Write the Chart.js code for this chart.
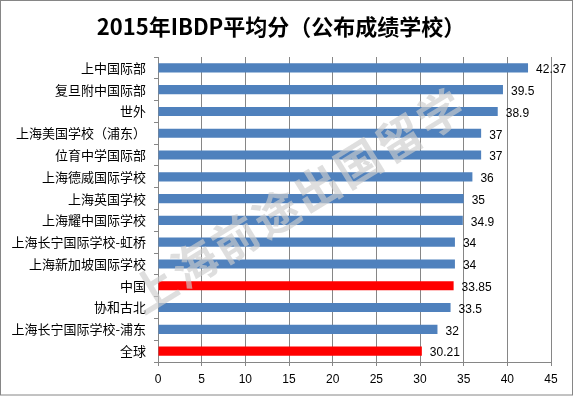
<!DOCTYPE html>
<html><head><meta charset="utf-8">
<script src="https://cdn.jsdelivr.net/npm/chart.js@4"></script>
<style>
html,body{margin:0;padding:0;background:#fff;}
#wrap{position:relative;width:574px;height:396px;}
canvas{display:block;}
</style></head>
<body>
<div id="wrap"><canvas id="c" width="574" height="396"></canvas></div>
<script>
const titleText = '2015年IBDP平均分（公布成绩学校）';
const watermarkText = '上海前途出国留学';
const categories = ['上中国际部','复旦附中国际部','世外','上海美国学校（浦东）','位育中学国际部','上海德威国际学校','上海英国学校','上海耀中国际学校','上海长宁国际学校-虹桥','上海新加坡国际学校','中国','协和古北','上海长宁国际学校-浦东','全球'];
const scores = [42.37,39.5,38.9,37,37,36,35,34.9,34,34,33.85,33.5,32,30.21];
const scoreLabels = ['42.37','39.5','38.9','37','37','36','35','34.9','34','34','33.85','33.5','32','30.21'];
const highlight = [false,false,false,false,false,false,false,false,false,false,true,false,false,true];
const xTicks = [0,5,10,15,20,25,30,35,40,45];

const BLUE = '#4F81BD', RED = '#FF0000', GRID = '#868686';
const CJK = '"Noto Sans CJK SC","Noto Sans",sans-serif';
const LAT = '"Liberation Sans","DejaVu Sans",sans-serif';

const decor = {
  id:'decor',
  beforeDraw(chart){
    const ctx = chart.ctx;
    ctx.save();
    ctx.fillStyle = '#fff';
    ctx.fillRect(0,0,chart.width,chart.height);
    ctx.restore();
  },
  afterDatasetsDraw(chart){
    const ctx = chart.ctx;
    const meta = chart.getDatasetMeta(0);
    ctx.save();
    ctx.font = '12px ' + LAT;
    ctx.fillStyle = '#000';
    ctx.textAlign = 'left';
    ctx.textBaseline = 'middle';
    meta.data.forEach((bar,i)=>{
      ctx.fillText(scoreLabels[i], bar.x + 8, bar.y + 2);
    });
    ctx.restore();
  },
  afterDraw(chart){
    const ctx = chart.ctx;
    // watermark
    ctx.save();
    ctx.translate(298, 200);
    ctx.rotate(-31.5 * Math.PI/180);
    ctx.font = 'bold 45px ' + CJK;
    ctx.textAlign = 'center';
    ctx.textBaseline = 'middle';
    ctx.fillStyle = 'rgba(205,205,205,0.65)';
    if ('letterSpacing' in ctx) ctx.letterSpacing = '3px';
    ctx.fillText(watermarkText, 0, 0);
    ctx.restore();
    // title
    ctx.save();
    ctx.font = 'bold 22px ' + CJK;
    ctx.fillStyle = '#000';
    ctx.textAlign = 'center';
    ctx.textBaseline = 'middle';
    ctx.fillText(titleText, 281, 27);
    ctx.restore();
    // border
    ctx.save();
    ctx.strokeStyle = '#868686';
    ctx.lineWidth = 1;
    ctx.strokeRect(0.5, 0.5, 572, 394.5);
    ctx.restore();
  }
};

new Chart(document.getElementById('c'), {
  type:'bar',
  data:{
    labels: categories,
    datasets:[{
      data: scores,
      backgroundColor: highlight.map(h => h ? RED : BLUE),
      borderWidth:0,
      barPercentage:0.42,
      categoryPercentage:1
    }]
  },
  options:{
    indexAxis:'y',
    responsive:false,
    animation:false,
    devicePixelRatio:1,
    layout:{padding:{left:0,right:23,top:57,bottom:0}},
    plugins:{legend:{display:false},title:{display:false},tooltip:{enabled:false}},
    scales:{
      x:{
        type:'linear',
        min:0,max:45,
        afterBuildTicks(scale){ scale.ticks = xTicks.map(v=>({value:v})); },
        afterFit(scale){ scale.height = 34; },
        grid:{color:GRID,lineWidth:1,tickLength:4,drawTicks:true},
        border:{color:GRID,width:1},
        ticks:{font:{family:LAT,size:12},color:'#000',padding:6,maxRotation:0}
      },
      y:{
        afterFit(scale){ scale.width = 158; },
        grid:{offset:true,drawOnChartArea:false,color:GRID,tickLength:4},
        border:{color:GRID,width:1},
        ticks:{font:{family:CJK,size:13},color:'#000',padding:8,autoSkip:false}
      }
    }
  },
  plugins:[decor]
});
</script>
</body></html>
